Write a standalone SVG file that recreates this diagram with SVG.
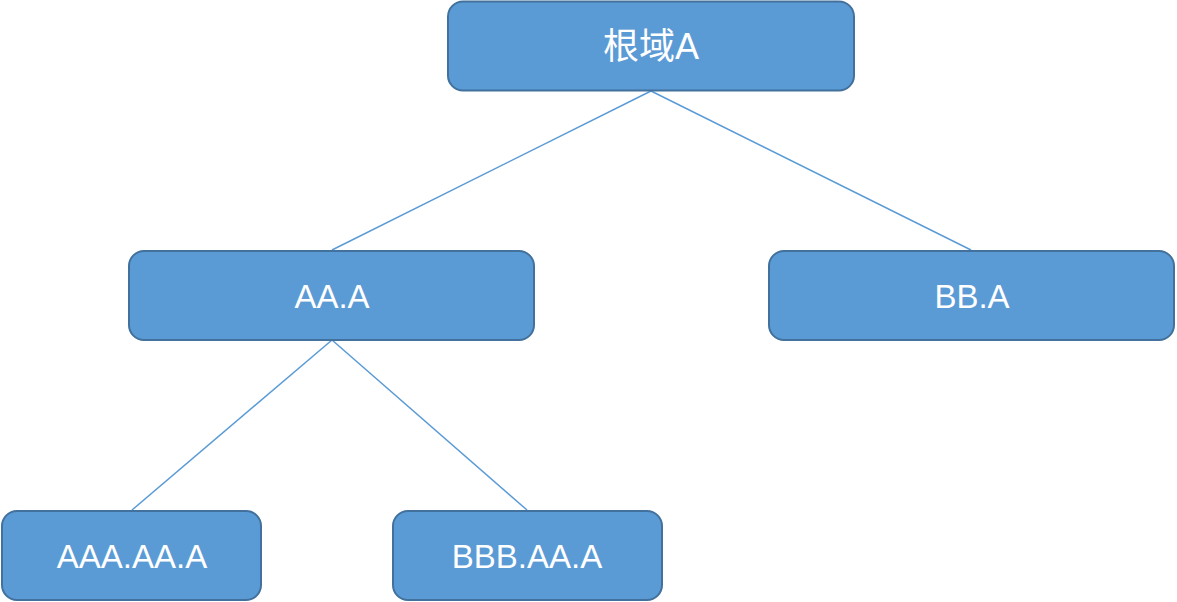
<svg xmlns="http://www.w3.org/2000/svg" width="1177" height="602" viewBox="0 0 1177 602">
<style>
.box{fill:#5B9BD5;stroke:#41719C;stroke-width:2}
.lbl{fill:#FFFFFF;font-family:"Liberation Sans","Noto Sans CJK SC",sans-serif;font-size:33px;text-anchor:middle}
.edge{stroke:#5B9BD5;stroke-width:1.5;fill:none}
</style>
<rect width="1177" height="602" fill="#FFFFFF"/>
<g id="connectors">
<line class="edge" x1="651" y1="91" x2="332" y2="250"/>
<line class="edge" x1="651" y1="91" x2="971" y2="250"/>
<line class="edge" x1="332" y1="340" x2="132" y2="510"/>
<line class="edge" x1="332" y1="340" x2="527" y2="510"/>
</g>
<g id="root">
<rect class="box" x="448" y="1.5" width="406" height="89" rx="15"/>
<text class="lbl" x="651" y="59" style="font-size:36px">根域A</text>
</g>
<g id="aa">
<rect class="box" x="129" y="251" width="405" height="89" rx="15"/>
<text class="lbl" x="332" y="308">AA.A</text>
</g>
<g id="bb">
<rect class="box" x="769" y="251" width="405" height="89" rx="15"/>
<text class="lbl" x="972" y="308">BB.A</text>
</g>
<g id="aaa">
<rect class="box" x="2" y="511" width="259" height="89" rx="15"/>
<text class="lbl" x="132" y="568">AAA.AA.A</text>
</g>
<g id="bbb">
<rect class="box" x="393" y="511" width="269" height="89" rx="15"/>
<text class="lbl" x="527" y="568">BBB.AA.A</text>
</g>
</svg>
